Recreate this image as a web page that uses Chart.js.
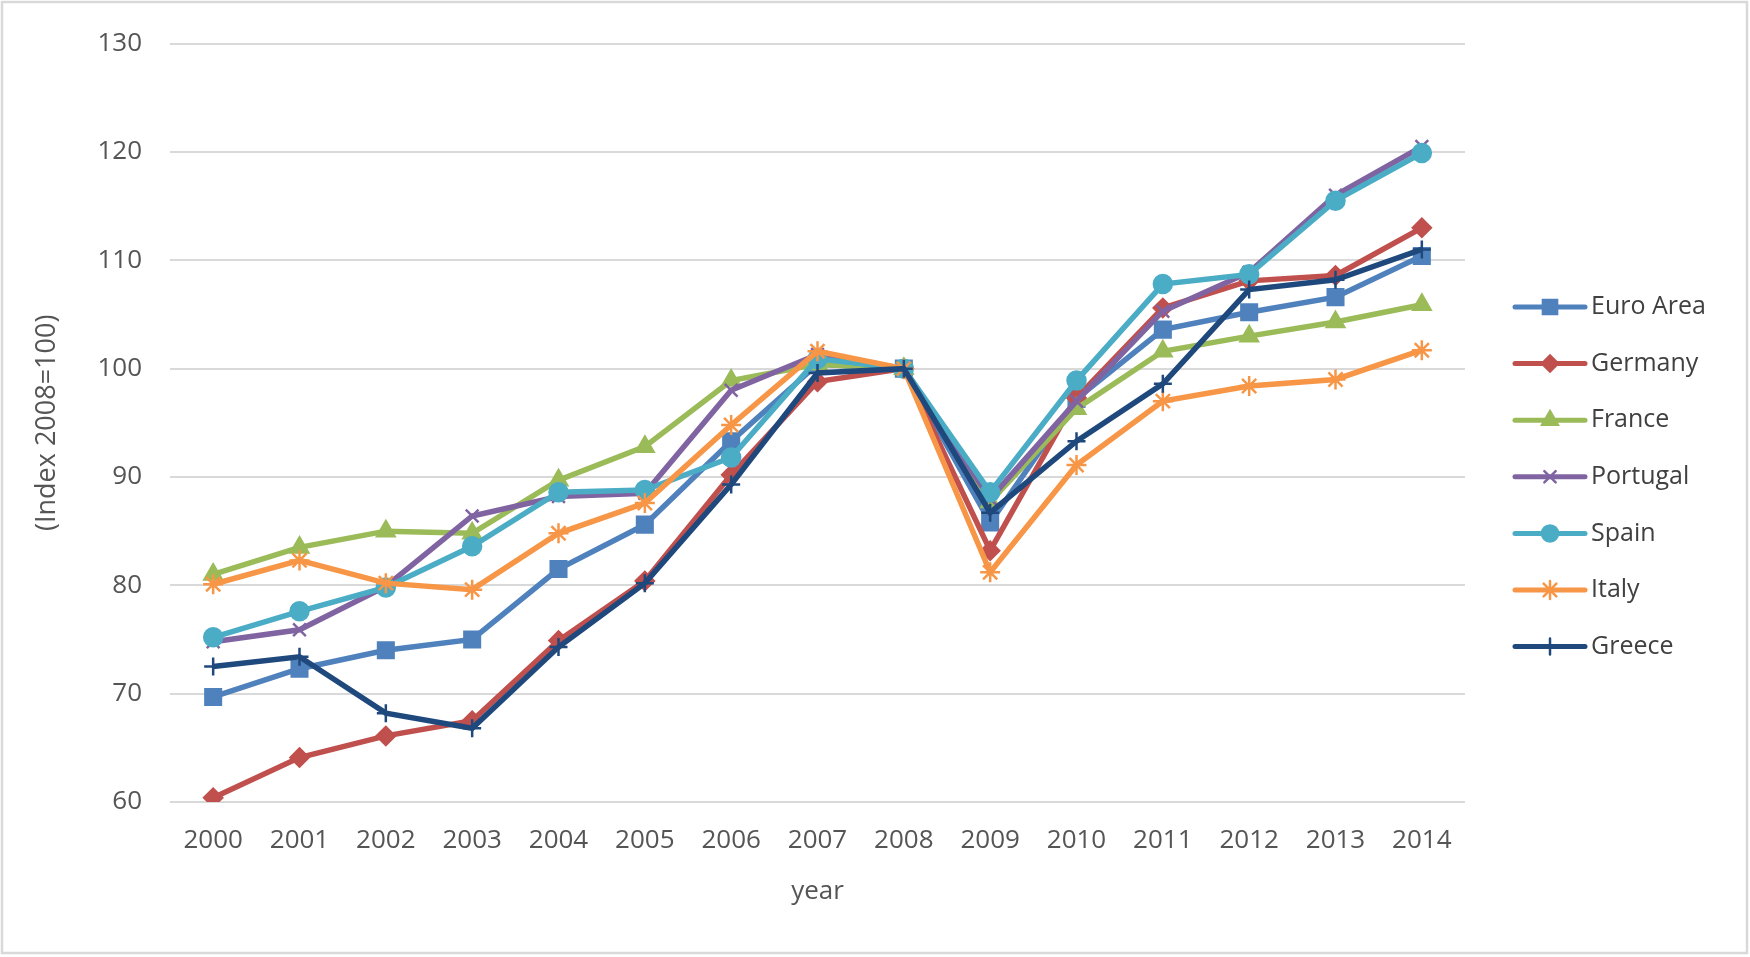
<!DOCTYPE html>
<html>
<head>
<meta charset="utf-8">
<script src="https://cdn.jsdelivr.net/npm/chart.js@4.4.1/dist/chart.umd.min.js"></script>
<style>
  html, body { margin: 0; padding: 0; background: #fff; }
  #wrap { width: 1750px; height: 957px; position: relative; }
</style>
</head>
<body>
<div id="wrap"><canvas id="chart" width="1750" height="957"></canvas></div>
<script>
// years on the x axis
const years = ["2000", "2001", "2002", "2003", "2004", "2005", "2006", "2007",
  "2008", "2009", "2010", "2011", "2012", "2013", "2014"];

// index values (2008 = 100)
const euroArea = [69.7, 72.3, 74.0, 75.0, 81.5, 85.6, 93.3, 100.4, 100, 85.8, 97.2, 103.6, 105.2, 106.6, 110.4];
const germany = [60.4, 64.1, 66.1, 67.5, 74.9, 80.4, 90.2, 98.8, 100, 83.2, 97.3, 105.6, 108.1, 108.6, 113.0];
const france = [81.0, 83.5, 85.0, 84.8, 89.7, 92.8, 98.9, 100.4, 100, 87.7, 96.3, 101.6, 103.0, 104.3, 105.9];
const portugal = [74.8, 75.9, 79.9, 86.4, 88.2, 88.5, 98.0, 101.3, 100, 88.0, 97.0, 105.3, 108.9, 116.0, 120.5];
const spain = [75.2, 77.6, 79.8, 83.6, 88.6, 88.8, 91.8, 100.9, 100, 88.6, 98.9, 107.8, 108.7, 115.5, 119.9];
const italy = [80.1, 82.3, 80.2, 79.6, 84.8, 87.6, 94.8, 101.6, 100, 81.2, 91.1, 97.0, 98.4, 99.0, 101.7];
const greece = [72.5, 73.4, 68.2, 66.8, 74.3, 80.2, 89.3, 99.6, 100, 86.7, 93.3, 98.6, 107.3, 108.2, 111.0];

const seriesNames = ["Euro Area", "Germany", "France", "Portugal", "Spain", "Italy", "Greece"];
const seriesValues = [euroArea, germany, france, portugal, spain, italy, greece];
const seriesColors = ["#4F81BD", "#C0504D", "#9BBB59", "#8064A2", "#4BACC6", "#F79646", "#1F497D"];
const markerStyles = ["rect", "rectRot", "triangle", "crossRot", "circle", "star", "cross"];
const markerSizes = [11, 9, 10, 9, 9, 10, 9];

const yTicks = [60, 70, 80, 90, 100, 110, 120, 130];

const FONT = "'Open Sans', 'DejaVu Sans', sans-serif";
const TEXT_GREY = "#555555";

const datasets = seriesNames.map((name, i) => ({
  label: name,
  data: seriesValues[i],
  borderColor: seriesColors[i],
  backgroundColor: seriesColors[i],
  borderWidth: 5.5,
  pointStyle: markerStyles[i],
  pointRadius: markerSizes[i],
  pointBorderWidth: 2.5,
  pointBackgroundColor: seriesColors[i],
  pointBorderColor: seriesColors[i],
  tension: 0,
  order: seriesNames.length - i,
}));

// light grey frame round the whole chart
const framePlugin = {
  id: "frame",
  beforeDraw(chart) {
    const ctx = chart.ctx;
    ctx.save();
    ctx.fillStyle = "#fff";
    ctx.fillRect(0, 0, chart.width, chart.height);
    ctx.strokeStyle = "#d9d9d9";
    ctx.lineWidth = 2.5;
    ctx.strokeRect(2, 2, chart.width - 5, chart.height - 6);
    ctx.restore();
  },
};

// Excel style legend: short line with the marker on it
const lineLegend = {
  id: "lineLegend",
  afterDraw(chart) {
    const ctx = chart.ctx;
    const x0 = 1515, x1 = 1585, top = 307, step = 56.6;
    ctx.save();
    chart.data.datasets.forEach((ds, i) => {
      const y = top + i * step;
      ctx.strokeStyle = ds.borderColor;
      ctx.lineWidth = 5;
      ctx.lineCap = "round";
      ctx.beginPath();
      ctx.moveTo(x0, y);
      ctx.lineTo(x1, y);
      ctx.stroke();
      ctx.fillStyle = ds.pointBackgroundColor;
      ctx.strokeStyle = ds.pointBorderColor;
      ctx.lineWidth = 2.5;
      Chart.helpers.drawPoint(ctx, {
        pointStyle: ds.pointStyle,
        radius: ds.pointRadius - 1,
        rotation: 0,
        borderWidth: 2.5,
      }, (x0 + x1) / 2, y);
      ctx.fillStyle = "#404040";
      ctx.font = "25px " + FONT;
      ctx.textBaseline = "middle";
      ctx.textAlign = "left";
      ctx.fillText(ds.label, x1 + 6, y);
    });
    ctx.restore();
  },
};

new Chart(document.getElementById("chart"), {
  type: "line",
  data: { labels: years, datasets: datasets },
  plugins: [framePlugin, lineLegend],
  options: {
    responsive: false,
    animation: false,
    devicePixelRatio: 1,
    layout: { padding: { top: 40, right: 285, bottom: 0, left: 0 } },
    plugins: {
      legend: { display: false },
      tooltip: { enabled: false },
    },
    scales: {
      x: {
        offset: true,
        grid: { display: false, drawTicks: false },
        border: { display: false },
        ticks: { color: TEXT_GREY, font: { family: FONT, size: 26 }, padding: 23, maxRotation: 0 },
        title: {
          display: true,
          text: "year",
          color: TEXT_GREY,
          font: { family: FONT, size: 26 },
          padding: { top: 0, bottom: 50 },
        },
        afterFit(scale) { scale.height = 155; },
      },
      y: {
        min: 60,
        max: 130,
        afterBuildTicks(scale) { scale.ticks = yTicks.map((v) => ({ value: v })); },
        grid: { color: "#d9d9d9", lineWidth: 2, drawTicks: false },
        border: { display: false },
        ticks: { color: TEXT_GREY, font: { family: FONT, size: 26 }, padding: 28 },
        title: {
          display: true,
          text: "(Index 2008=100)",
          color: TEXT_GREY,
          font: { family: FONT, size: 27 },
          padding: { top: 31, bottom: 0 },
        },
        afterFit(scale) { scale.width = 170; },
      },
    },
  },
});
</script>
</body>
</html>
